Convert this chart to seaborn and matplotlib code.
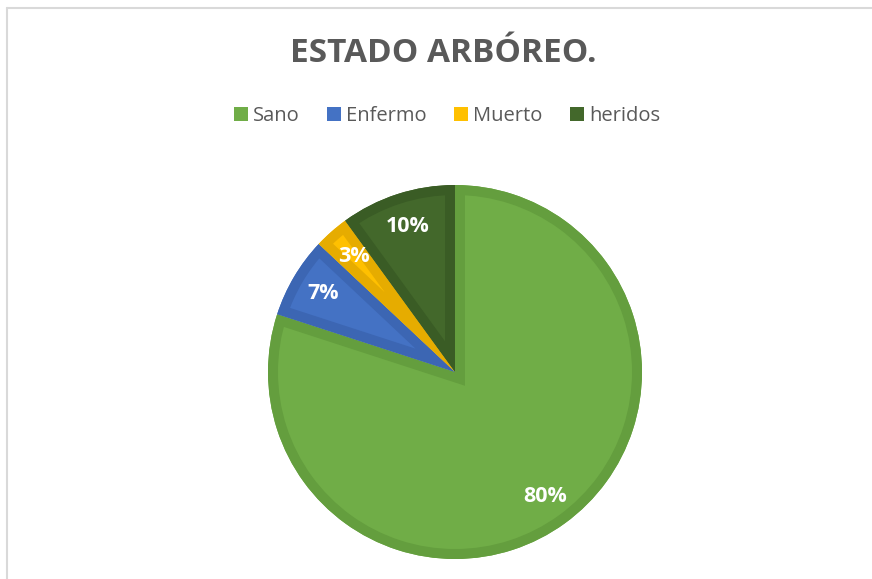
import seaborn as sns
import matplotlib.pyplot as plt
from matplotlib.patches import Patch, Wedge
from matplotlib.lines import Line2D

# data
categories = ["Sano", "Enfermo", "Muerto", "heridos"]
values = [80, 7, 3, 10]
fill_colors = ["#70AD47", "#4472C4", "#FFC000", "#43682B"]
edge_colors = ["#649E3E", "#3C66B3", "#E6AC00", "#3A5C25"]

sns.set_theme(style="white")
plt.rcParams["font.family"] = ["Open Sans", "DejaVu Sans"]

W, H = 872, 579
fig = plt.figure(figsize=(W / 100, H / 100), dpi=100)
fig.patch.set_facecolor("white")

# pie centred at (455, 372) px, radius 187 px
cx, cy, r = 455, 372, 187
ax = fig.add_axes([(cx - r) / W, (H - cy - r) / H, 2 * r / W, 2 * r / H])

wedges, texts, autotexts = ax.pie(
    values,
    colors=fill_colors,
    startangle=90,
    counterclock=False,
    autopct="%1.0f%%",
    pctdistance=0.82,
    radius=1.0,
    wedgeprops=dict(linewidth=0),
    textprops=dict(color="white", fontsize=15.5, fontweight="bold"),
)
# darker inner border: thick outline clipped to each wedge
for w, ec in zip(wedges, edge_colors):
    border = Wedge(w.center, w.r, w.theta1, w.theta2, facecolor="none",
                   edgecolor=ec, linewidth=14.4, zorder=w.get_zorder() + 0.1)
    ax.add_patch(border)
    border.set_clip_path(w)
for t in autotexts:
    t.set_zorder(5)
ax.set_xlim(-1, 1)
ax.set_ylim(-1, 1)
ax.set_aspect("equal")
ax.axis("off")

# title
fig.text(443 / W, 1 - 54 / H, "ESTADO ARBÓREO.", ha="center", va="center",
         fontsize=24, fontweight="bold", color="#595959")

# legend
handles = [Patch(facecolor=c, edgecolor="none") for c in fill_colors]
fig.legend(
    handles, categories,
    loc="center", bbox_to_anchor=(447 / W, 1 - 116 / H),
    ncol=4, frameon=False, fontsize=14.5,
    handlelength=0.7, handleheight=0.7, handletextpad=0.25,
    columnspacing=1.35, labelcolor="#595959", borderpad=0,
)

# chart frame (partially cropped)
fig.add_artist(Line2D([6.5 / W, 6.5 / W], [0, 1 - 7.5 / H], color="#D9D9D9", lw=1.5,
                      transform=fig.transFigure))
fig.add_artist(Line2D([6.5 / W, 1], [1 - 7.5 / H, 1 - 7.5 / H], color="#D9D9D9", lw=1.5,
                      transform=fig.transFigure))

fig.savefig("out.png", dpi=100, facecolor="white")
